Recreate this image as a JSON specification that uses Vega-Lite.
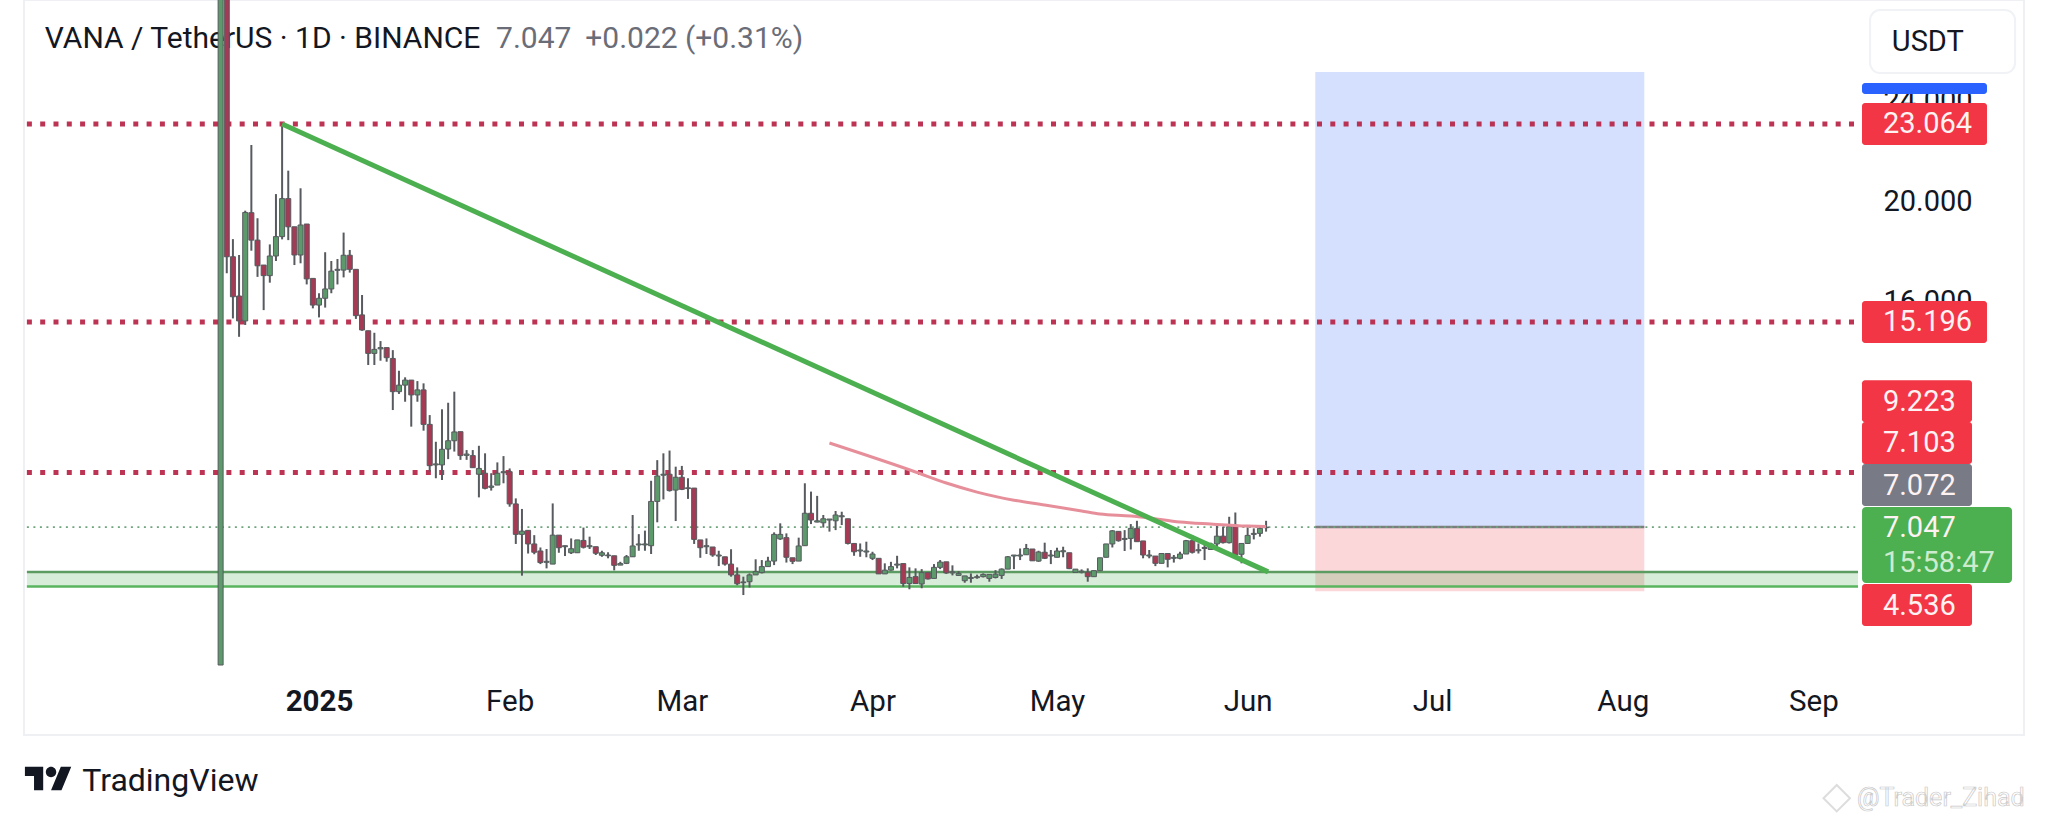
{
  "$schema": "https://vega.github.io/schema/vega-lite/v6.json",
  "width": 2000,
  "height": 735,
  "autosize": {"type": "none"},
  "padding": {"left": 24, "right": 24, "top": 0, "bottom": 88},
  "background": "#ffffff",
  "config": {"view": {"stroke": "#eef0f3", "strokeWidth": 2}},
  "datasets": {
    "candles": [
      {"t":"2024-12-16","o":1.57,"h":60,"l":1.57,"c":45},
      {"t":"2024-12-17","o":45,"h":60,"l":17.13,"c":17.79},
      {"t":"2024-12-18","o":17.79,"h":18.49,"l":15.34,"c":16.2},
      {"t":"2024-12-19","o":16.23,"h":17.86,"l":14.61,"c":15.24},
      {"t":"2024-12-20","o":15.24,"h":19.62,"l":15.08,"c":19.55},
      {"t":"2024-12-21","o":19.54,"h":22.23,"l":18.03,"c":18.45},
      {"t":"2024-12-22","o":18.45,"h":19.32,"l":16.99,"c":17.43},
      {"t":"2024-12-23","o":17.46,"h":17.46,"l":15.67,"c":17.04},
      {"t":"2024-12-24","o":17.04,"h":18.28,"l":16.76,"c":17.82},
      {"t":"2024-12-25","o":17.82,"h":20.28,"l":17.62,"c":18.59},
      {"t":"2024-12-26","o":18.59,"h":23.09,"l":18.48,"c":20.1},
      {"t":"2024-12-27","o":20.1,"h":21.21,"l":18.45,"c":18.98},
      {"t":"2024-12-28","o":18.98,"h":18.98,"l":17.46,"c":17.86},
      {"t":"2024-12-29","o":17.86,"h":20.51,"l":17.53,"c":19.05},
      {"t":"2024-12-30","o":19.09,"h":19.09,"l":16.69,"c":16.91},
      {"t":"2024-12-31","o":16.93,"h":16.93,"l":15.74,"c":15.87},
      {"t":"2025-01-01","o":15.87,"h":16.34,"l":15.38,"c":16.14},
      {"t":"2025-01-02","o":16.14,"h":17.97,"l":15.77,"c":16.51},
      {"t":"2025-01-03","o":16.51,"h":17.62,"l":16.34,"c":17.22},
      {"t":"2025-01-04","o":17.25,"h":17.7,"l":16.69,"c":17.29},
      {"t":"2025-01-05","o":17.26,"h":18.75,"l":16.97,"c":17.85},
      {"t":"2025-01-06","o":17.85,"h":18.06,"l":17.16,"c":17.29},
      {"t":"2025-01-07","o":17.29,"h":17.29,"l":15.32,"c":15.45},
      {"t":"2025-01-08","o":15.48,"h":16.27,"l":14.85,"c":14.88},
      {"t":"2025-01-09","o":14.85,"h":14.85,"l":13.49,"c":13.95},
      {"t":"2025-01-10","o":13.95,"h":14.77,"l":13.49,"c":14.11},
      {"t":"2025-01-11","o":14.13,"h":14.44,"l":13.66,"c":14.18},
      {"t":"2025-01-12","o":14.18,"h":14.18,"l":13.62,"c":13.78},
      {"t":"2025-01-13","o":13.75,"h":14.08,"l":11.7,"c":12.43},
      {"t":"2025-01-14","o":12.43,"h":13.26,"l":12.34,"c":12.69},
      {"t":"2025-01-15","o":12.69,"h":13.0,"l":12.03,"c":12.89},
      {"t":"2025-01-16","o":12.89,"h":12.89,"l":11.04,"c":12.3},
      {"t":"2025-01-17","o":12.3,"h":12.85,"l":12.03,"c":12.5},
      {"t":"2025-01-18","o":12.5,"h":12.76,"l":10.88,"c":11.13},
      {"t":"2025-01-19","o":11.13,"h":11.5,"l":9.25,"c":9.49},
      {"t":"2025-01-20","o":9.52,"h":10.44,"l":8.99,"c":9.56},
      {"t":"2025-01-21","o":9.52,"h":11.73,"l":8.92,"c":10.14},
      {"t":"2025-01-22","o":10.15,"h":11.99,"l":9.75,"c":10.48},
      {"t":"2025-01-23","o":10.48,"h":12.43,"l":10.05,"c":10.83},
      {"t":"2025-01-24","o":10.84,"h":10.84,"l":9.72,"c":9.89},
      {"t":"2025-01-25","o":9.9,"h":10.11,"l":9.72,"c":9.95},
      {"t":"2025-01-26","o":9.89,"h":10.11,"l":9.41,"c":9.41},
      {"t":"2025-01-27","o":9.15,"h":10.28,"l":8.23,"c":9.38},
      {"t":"2025-01-28","o":9.19,"h":9.98,"l":8.55,"c":8.59},
      {"t":"2025-01-29","o":8.63,"h":9.19,"l":8.5,"c":8.68},
      {"t":"2025-01-30","o":8.72,"h":9.62,"l":8.72,"c":9.19},
      {"t":"2025-01-31","o":9.21,"h":9.87,"l":8.79,"c":9.25},
      {"t":"2025-02-01","o":9.25,"h":9.38,"l":7.86,"c":7.97},
      {"t":"2025-02-02","o":7.97,"h":8.19,"l":6.38,"c":6.76},
      {"t":"2025-02-03","o":6.76,"h":7.77,"l":5.12,"c":6.89},
      {"t":"2025-02-04","o":6.92,"h":6.92,"l":6.0,"c":6.38},
      {"t":"2025-02-05","o":6.38,"h":6.73,"l":5.97,"c":6.05},
      {"t":"2025-02-06","o":6.1,"h":6.24,"l":5.58,"c":5.64},
      {"t":"2025-02-07","o":5.65,"h":6.18,"l":5.41,"c":5.69},
      {"t":"2025-02-08","o":5.58,"h":7.99,"l":5.58,"c":6.73},
      {"t":"2025-02-09","o":6.73,"h":6.73,"l":6.03,"c":6.23},
      {"t":"2025-02-10","o":6.27,"h":6.31,"l":5.9,"c":6.31},
      {"t":"2025-02-11","o":6.03,"h":6.6,"l":5.98,"c":6.19},
      {"t":"2025-02-12","o":6.03,"h":6.54,"l":6.03,"c":6.54},
      {"t":"2025-02-13","o":6.52,"h":7.03,"l":6.2,"c":6.25},
      {"t":"2025-02-14","o":6.27,"h":6.67,"l":6.18,"c":6.31},
      {"t":"2025-02-15","o":6.27,"h":6.27,"l":5.94,"c":6.01},
      {"t":"2025-02-16","o":5.93,"h":6.11,"l":5.87,"c":6.03},
      {"t":"2025-02-17","o":5.91,"h":6.05,"l":5.81,"c":5.94},
      {"t":"2025-02-18","o":5.91,"h":5.91,"l":5.33,"c":5.53},
      {"t":"2025-02-19","o":5.54,"h":5.67,"l":5.54,"c":5.6},
      {"t":"2025-02-20","o":5.61,"h":5.94,"l":5.58,"c":5.87},
      {"t":"2025-02-21","o":5.87,"h":7.53,"l":5.87,"c":6.3},
      {"t":"2025-02-22","o":6.34,"h":6.77,"l":6.11,"c":6.38},
      {"t":"2025-02-23","o":6.34,"h":6.91,"l":6.11,"c":6.38},
      {"t":"2025-02-24","o":6.31,"h":8.89,"l":5.98,"c":8.07},
      {"t":"2025-02-25","o":8.07,"h":9.71,"l":7.24,"c":9.08},
      {"t":"2025-02-26","o":9.11,"h":9.98,"l":8.15,"c":9.15},
      {"t":"2025-02-27","o":9.15,"h":10.09,"l":8.46,"c":8.5},
      {"t":"2025-02-28","o":8.52,"h":9.45,"l":7.29,"c":9.03},
      {"t":"2025-03-01","o":9.03,"h":9.48,"l":8.52,"c":8.55},
      {"t":"2025-03-02","o":8.58,"h":8.99,"l":8.17,"c":8.61},
      {"t":"2025-03-03","o":8.6,"h":8.6,"l":6.38,"c":6.56},
      {"t":"2025-03-04","o":6.54,"h":6.54,"l":5.83,"c":6.23},
      {"t":"2025-03-05","o":6.27,"h":6.6,"l":5.98,"c":6.31},
      {"t":"2025-03-06","o":6.26,"h":6.26,"l":5.87,"c":5.94},
      {"t":"2025-03-07","o":5.9,"h":6.11,"l":5.5,"c":5.94},
      {"t":"2025-03-08","o":5.87,"h":5.87,"l":5.52,"c":5.58},
      {"t":"2025-03-09","o":5.58,"h":6.17,"l":5.08,"c":5.15},
      {"t":"2025-03-10","o":5.15,"h":5.45,"l":4.74,"c":4.8},
      {"t":"2025-03-11","o":4.84,"h":5.08,"l":4.35,"c":4.87},
      {"t":"2025-03-12","o":4.88,"h":5.21,"l":4.65,"c":5.15},
      {"t":"2025-03-13","o":5.15,"h":5.77,"l":5.15,"c":5.28},
      {"t":"2025-03-14","o":5.24,"h":5.74,"l":5.21,"c":5.48},
      {"t":"2025-03-15","o":5.48,"h":5.87,"l":5.48,"c":5.7},
      {"t":"2025-03-16","o":5.7,"h":6.84,"l":5.54,"c":6.76},
      {"t":"2025-03-17","o":6.58,"h":7.2,"l":6.54,"c":6.76},
      {"t":"2025-03-18","o":6.63,"h":6.8,"l":5.64,"c":5.85},
      {"t":"2025-03-19","o":5.83,"h":5.83,"l":5.58,"c":5.69},
      {"t":"2025-03-20","o":5.7,"h":6.63,"l":5.7,"c":6.3},
      {"t":"2025-03-21","o":6.31,"h":8.79,"l":6.31,"c":7.6},
      {"t":"2025-03-22","o":7.6,"h":8.46,"l":7.17,"c":7.33},
      {"t":"2025-03-23","o":7.25,"h":8.29,"l":7.24,"c":7.3},
      {"t":"2025-03-24","o":7.22,"h":7.53,"l":7.03,"c":7.38},
      {"t":"2025-03-25","o":7.33,"h":7.37,"l":6.87,"c":7.37},
      {"t":"2025-03-26","o":7.3,"h":7.69,"l":6.93,"c":7.53},
      {"t":"2025-03-27","o":7.46,"h":7.66,"l":7.13,"c":7.5},
      {"t":"2025-03-28","o":7.38,"h":7.38,"l":6.36,"c":6.4},
      {"t":"2025-03-29","o":6.4,"h":6.4,"l":5.91,"c":6.07},
      {"t":"2025-03-30","o":6.1,"h":6.4,"l":5.87,"c":6.14},
      {"t":"2025-03-31","o":6.06,"h":6.47,"l":5.85,"c":6.1},
      {"t":"2025-04-01","o":5.81,"h":6.07,"l":5.74,"c":5.98},
      {"t":"2025-04-02","o":5.81,"h":5.81,"l":5.19,"c":5.19},
      {"t":"2025-04-03","o":5.19,"h":5.61,"l":5.19,"c":5.34},
      {"t":"2025-04-04","o":5.34,"h":5.67,"l":5.32,"c":5.48},
      {"t":"2025-04-05","o":5.54,"h":5.91,"l":5.41,"c":5.58},
      {"t":"2025-04-06","o":5.6,"h":5.6,"l":4.68,"c":4.81},
      {"t":"2025-04-07","o":4.81,"h":5.45,"l":4.58,"c":5.05},
      {"t":"2025-04-08","o":5.08,"h":5.41,"l":4.79,"c":4.81},
      {"t":"2025-04-09","o":4.79,"h":5.38,"l":4.62,"c":5.24},
      {"t":"2025-04-10","o":5.24,"h":5.24,"l":4.97,"c":4.99},
      {"t":"2025-04-11","o":5.01,"h":5.58,"l":5.01,"c":5.45},
      {"t":"2025-04-12","o":5.45,"h":5.74,"l":5.38,"c":5.66},
      {"t":"2025-04-13","o":5.67,"h":5.67,"l":5.19,"c":5.23},
      {"t":"2025-04-14","o":5.23,"h":5.53,"l":5.13,"c":5.27},
      {"t":"2025-04-15","o":5.13,"h":5.3,"l":5.11,"c":5.21},
      {"t":"2025-04-16","o":4.92,"h":5.11,"l":4.84,"c":5.11},
      {"t":"2025-04-17","o":5.01,"h":5.21,"l":4.84,"c":5.05},
      {"t":"2025-04-18","o":5.04,"h":5.16,"l":5.0,"c":5.08},
      {"t":"2025-04-19","o":5.08,"h":5.21,"l":5.05,"c":5.17},
      {"t":"2025-04-20","o":5.01,"h":5.17,"l":4.88,"c":5.17},
      {"t":"2025-04-21","o":5.05,"h":5.34,"l":5.01,"c":5.18},
      {"t":"2025-04-22","o":5.13,"h":5.41,"l":4.99,"c":5.38},
      {"t":"2025-04-23","o":5.38,"h":5.9,"l":5.38,"c":5.87},
      {"t":"2025-04-24","o":5.9,"h":5.94,"l":5.38,"c":5.94},
      {"t":"2025-04-25","o":5.9,"h":6.2,"l":5.74,"c":5.94},
      {"t":"2025-04-26","o":5.95,"h":6.38,"l":5.95,"c":6.2},
      {"t":"2025-04-27","o":6.18,"h":6.18,"l":5.71,"c":5.71},
      {"t":"2025-04-28","o":5.7,"h":6.11,"l":5.67,"c":6.06},
      {"t":"2025-04-29","o":6.05,"h":6.43,"l":5.78,"c":5.81},
      {"t":"2025-04-30","o":5.9,"h":6.14,"l":5.58,"c":5.94},
      {"t":"2025-05-01","o":5.85,"h":6.23,"l":5.85,"c":6.1},
      {"t":"2025-05-02","o":6.07,"h":6.27,"l":5.85,"c":6.11},
      {"t":"2025-05-03","o":6.03,"h":6.03,"l":5.38,"c":5.4},
      {"t":"2025-05-04","o":5.25,"h":5.38,"l":5.24,"c":5.38},
      {"t":"2025-05-05","o":5.26,"h":5.37,"l":5.21,"c":5.3},
      {"t":"2025-05-06","o":5.26,"h":5.41,"l":4.88,"c":5.08},
      {"t":"2025-05-07","o":5.08,"h":5.32,"l":5.08,"c":5.32},
      {"t":"2025-05-08","o":5.32,"h":5.83,"l":5.32,"c":5.83},
      {"t":"2025-05-09","o":5.85,"h":6.38,"l":5.85,"c":6.38},
      {"t":"2025-05-10","o":6.38,"h":6.93,"l":6.24,"c":6.9},
      {"t":"2025-05-11","o":6.88,"h":6.88,"l":6.47,"c":6.51},
      {"t":"2025-05-12","o":6.56,"h":6.93,"l":6.1,"c":6.6},
      {"t":"2025-05-13","o":6.6,"h":7.17,"l":6.16,"c":7.0},
      {"t":"2025-05-14","o":7.0,"h":7.3,"l":6.47,"c":6.47},
      {"t":"2025-05-15","o":6.5,"h":6.5,"l":5.81,"c":5.94},
      {"t":"2025-05-16","o":5.9,"h":6.14,"l":5.81,"c":5.94},
      {"t":"2025-05-17","o":5.9,"h":5.9,"l":5.5,"c":5.61},
      {"t":"2025-05-18","o":5.61,"h":6.0,"l":5.61,"c":6.0},
      {"t":"2025-05-19","o":6.0,"h":6.0,"l":5.45,"c":5.77},
      {"t":"2025-05-20","o":5.81,"h":5.94,"l":5.64,"c":5.85},
      {"t":"2025-05-21","o":5.81,"h":6.07,"l":5.77,"c":5.98},
      {"t":"2025-05-22","o":5.98,"h":6.54,"l":5.98,"c":6.51},
      {"t":"2025-05-23","o":6.51,"h":6.73,"l":6.0,"c":6.05},
      {"t":"2025-05-24","o":6.11,"h":6.4,"l":6.0,"c":6.15},
      {"t":"2025-05-25","o":6.2,"h":6.36,"l":5.74,"c":6.24},
      {"t":"2025-05-26","o":6.16,"h":6.43,"l":6.14,"c":6.38},
      {"t":"2025-05-27","o":6.38,"h":7.13,"l":6.14,"c":6.69},
      {"t":"2025-05-28","o":6.69,"h":7.07,"l":6.4,"c":6.43},
      {"t":"2025-05-29","o":6.43,"h":7.46,"l":6.4,"c":7.07},
      {"t":"2025-05-30","o":7.12,"h":7.63,"l":5.94,"c":5.94},
      {"t":"2025-05-31","o":5.97,"h":6.4,"l":5.61,"c":6.4},
      {"t":"2025-06-01","o":6.4,"h":7.04,"l":6.38,"c":6.72},
      {"t":"2025-06-02","o":6.76,"h":7.0,"l":6.56,"c":6.8},
      {"t":"2025-06-03","o":6.8,"h":7.07,"l":6.67,"c":7.0},
      {"t":"2025-06-04","o":7.025,"h":7.3,"l":6.87,"c":7.047}
    ],
    "ma": [
      {"t":"2025-03-25","p":10.39},{"t":"2025-04-08","p":9.24},
      {"t":"2025-04-13","p":8.8},{"t":"2025-04-18","p":8.44},{"t":"2025-04-24","p":8.12},
      {"t":"2025-04-29","p":7.93},{"t":"2025-05-05","p":7.69},{"t":"2025-05-08","p":7.57},
      {"t":"2025-05-13","p":7.49},{"t":"2025-05-16","p":7.41},{"t":"2025-05-21","p":7.25},
      {"t":"2025-05-26","p":7.17},{"t":"2025-06-01","p":7.09},{"t":"2025-06-04","p":7.07}
    ],
    "trend": [
      {"t":"2024-12-26","p":23.06},
      {"t":"2025-06-04T08:00:00Z","p":5.27}
    ],
    "levels": [
      {"t":"2024-11-14T12:00:00Z","t2":"2025-09-07T19:00:00Z","p":23.064},
      {"t":"2024-11-14T12:00:00Z","t2":"2025-09-07T19:00:00Z","p":15.196},
      {"t":"2024-11-14T12:00:00Z","t2":"2025-09-07T19:00:00Z","p":9.223}
    ],
    "last": [{"t":"2024-11-14T12:00:00Z","t2":"2025-09-07T19:00:00Z","p":7.047}],
    "zone": [{"t":"2024-11-14T12:00:00Z","t2":"2025-09-08T06:00:00Z","top":5.27,"bottom":4.69}],
    "position": [
      {"t":"2025-06-12","t2":"2025-08-04T12:00:00Z","top":25.13,"bottom":7.05,"side":"target"},
      {"t":"2025-06-12","t2":"2025-08-04T12:00:00Z","top":7.05,"bottom":4.5,"side":"stop"}
    ],
    "entry": [{"t":"2025-06-12","t2":"2025-08-04T12:00:00Z","p":7.05}],
    "heading": [
      {"t":"2024-11-17T10:00:00Z","p":26.44,"text":"VANA / TetherUS · 1D · BINANCE","part":"name"},
      {"t":"2025-01-29T19:00:00Z","p":26.44,"text":"7.047","part":"quote"},
      {"t":"2025-02-13T07:00:00Z","p":26.44,"text":"+0.022 (+0.31%)","part":"quote"}
    ],
    "tagTarget": [{"slot":24.47}],
    "tagsWide": [
      {"slot":23.064,"kind":"level"},
      {"slot":15.196,"kind":"level"}
    ],
    "tagsNarrow": [
      {"slot":12.05,"kind":"level"},
      {"slot":10.39,"kind":"level"},
      {"slot":8.72,"kind":"ma"},
      {"slot":3.95,"kind":"level"}
    ],
    "tagLast": [{"slot":6.34}],
    "tagText": [
      {"slot":23.064,"label":"23.064","kind":"plain"},
      {"slot":15.196,"label":"15.196","kind":"plain"},
      {"slot":12.02,"label":"9.223","kind":"plain"},
      {"slot":10.39,"label":"7.103","kind":"plain"},
      {"slot":8.68,"label":"7.072","kind":"plain"},
      {"slot":7.01,"label":"7.047","kind":"plain"},
      {"slot":5.62,"label":"15:58:47","kind":"timer"},
      {"slot":3.91,"label":"4.536","kind":"plain"}
    ],
    "unit": [{"slot":26.34,"label":"USDT"}],
    "logo": [{"t":"2024-11-18","p":-2.94}],
    "brand": [{"t":"2024-11-23T12:00:00Z","p":-3.05,"text":"TradingView"}],
    "stampIcon": [{"t":"2025-09-04T19:00:00Z","p":-3.72}],
    "stamp": [{"t":"2025-09-08T02:00:00Z","p":-3.72,"text":"@Trader_Zihad"}]
  },
  "layer": [
    {
      "data": {"name": "position"},
      "mark": {"type": "rect"},
      "encoding": {
        "x": {
          "field": "t",
          "type": "temporal",
          "title": null,
          "scale": {"type": "utc", "domain": [1731544992000, 1759643136000], "nice": false},
          "axis": {
            "values": [1735689600000, 1738368000000, 1740787200000, 1743465600000, 1746057600000, 1748736000000, 1751328000000, 1754006400000, 1756684800000],
            "labelExpr": "utcFormat(datum.value, '%m') == '01' ? '2025' : utcFormat(datum.value, '%b')",
            "orient": "bottom",
            "offset": -48,
            "domain": false,
            "ticks": false,
            "grid": false,
            "labelPadding": 0,
            "labelFont": "Roboto",
            "labelFontSize": 29.5,
            "labelColor": "#131722",
            "labelBaseline": "top",
            "labelFontWeight": {"condition": {"test": "utcFormat(datum.value, '%m') == '01'", "value": "bold"}, "value": "normal"},
            "labelOverlap": false,
            "labelFlush": false,
            "labelBound": false
          }
        },
        "x2": {"field": "t2"},
        "y": {
          "field": "top",
          "type": "quantitative",
          "title": null,
          "scale": {"domain": [-1.21, 27.99], "nice": false, "zero": false},
          "axis": {
            "orient": "right",
            "values": [16, 20, 24],
            "format": ".3f",
            "offset": -142,
            "domain": false,
            "ticks": false,
            "grid": false,
            "labelPadding": 1,
            "labelFont": "Roboto",
            "labelFontSize": 29,
            "labelColor": "#131722",
            "labelOverlap": false,
            "labelFlush": false,
            "labelBound": false
          }
        },
        "y2": {"field": "bottom"},
        "color": {
          "condition": {"test": "datum.side == 'target'", "value": "#d4e0fd"},
          "value": "#fbd7da"
        }
      }
    },
    {
      "data": {"name": "zone"},
      "mark": {"type": "rect", "color": "#4caf50", "opacity": 0.22},
      "encoding": {
        "x": {"field": "t", "type": "temporal", "title": null},
        "x2": {"field": "t2"},
        "y": {"field": "top", "type": "quantitative", "title": null},
        "y2": {"field": "bottom"}
      }
    },
    {
      "data": {"name": "zone"},
      "mark": {"type": "rule", "color": "#5c9c62", "strokeWidth": 2.5},
      "encoding": {
        "x": {"field": "t", "type": "temporal", "title": null},
        "x2": {"field": "t2"},
        "y": {"field": "top", "type": "quantitative", "title": null}
      }
    },
    {
      "data": {"name": "zone"},
      "mark": {"type": "rule", "color": "#58b45e", "strokeWidth": 2.5},
      "encoding": {
        "x": {"field": "t", "type": "temporal", "title": null},
        "x2": {"field": "t2"},
        "y": {"field": "bottom", "type": "quantitative", "title": null}
      }
    },
    {
      "data": {"name": "entry"},
      "mark": {"type": "rule", "color": "#7d7d80", "strokeWidth": 2.5},
      "encoding": {
        "x": {"field": "t", "type": "temporal", "title": null},
        "x2": {"field": "t2"},
        "y": {"field": "p", "type": "quantitative", "title": null}
      }
    },
    {
      "data": {"name": "heading"},
      "mark": {"type": "text", "align": "left", "baseline": "middle", "font": "Roboto", "fontSize": 30},
      "encoding": {
        "x": {"field": "t", "type": "temporal", "title": null},
        "y": {"field": "p", "type": "quantitative", "title": null},
        "text": {"field": "text"},
        "color": {
          "condition": {"test": "datum.part == 'quote'", "value": "#6a6d78"},
          "value": "#131722"
        }
      }
    },
    {
      "data": {"name": "levels"},
      "mark": {"type": "rule", "color": "#b8284a", "strokeWidth": 5, "strokeDash": [5, 8.3], "opacity": 0.95},
      "encoding": {
        "x": {"field": "t", "type": "temporal", "title": null},
        "x2": {"field": "t2"},
        "y": {"field": "p", "type": "quantitative", "title": null}
      }
    },
    {
      "data": {"name": "last"},
      "mark": {"type": "rule", "color": "#6fa57c", "strokeWidth": 1.6, "strokeDash": [2, 4.5]},
      "encoding": {
        "x": {"field": "t", "type": "temporal", "title": null},
        "x2": {"field": "t2"},
        "y": {"field": "p", "type": "quantitative", "title": null}
      }
    },
    {
      "data": {"name": "candles"},
      "mark": {"type": "rule", "color": "#575a5e", "strokeWidth": 2, "clip": true},
      "encoding": {
        "x": {"field": "t", "type": "temporal", "title": null},
        "y": {"field": "l", "type": "quantitative", "title": null},
        "y2": {"field": "h"}
      }
    },
    {
      "data": {"name": "candles"},
      "mark": {"type": "rect", "width": 5, "stroke": "#575a5e", "strokeWidth": 1, "clip": true},
      "encoding": {
        "x": {"field": "t", "type": "temporal", "title": null},
        "y": {"field": "o", "type": "quantitative", "title": null},
        "y2": {"field": "c"},
        "color": {
          "condition": {"test": "datum.c >= datum.o", "value": "#5c9a6c"},
          "value": "#a53a55"
        }
      }
    },
    {
      "data": {"name": "ma"},
      "mark": {"type": "line", "color": "#e68f9a", "strokeWidth": 3, "interpolate": "monotone"},
      "encoding": {
        "x": {"field": "t", "type": "temporal", "title": null},
        "y": {"field": "p", "type": "quantitative", "title": null}
      }
    },
    {
      "data": {"name": "trend"},
      "mark": {"type": "line", "color": "#4caf50", "strokeWidth": 5},
      "encoding": {
        "x": {"field": "t", "type": "temporal", "title": null},
        "y": {"field": "p", "type": "quantitative", "title": null}
      }
    },
    {
      "data": {"name": "tagTarget"},
      "mark": {"type": "rect", "width": 125, "height": 11, "cornerRadius": 3, "color": "#2962ff"},
      "encoding": {
        "x": {"datum": 1758245184000, "type": "temporal", "title": null},
        "y": {"field": "slot", "type": "quantitative", "title": null}
      }
    },
    {
      "data": {"name": "tagsWide"},
      "mark": {"type": "rect", "width": 125, "height": 42, "cornerRadius": 3, "color": "#f23645"},
      "encoding": {
        "x": {"datum": 1758245184000, "type": "temporal", "title": null},
        "y": {"field": "slot", "type": "quantitative", "title": null}
      }
    },
    {
      "data": {"name": "tagsNarrow"},
      "mark": {"type": "rect", "width": 110, "height": 42, "cornerRadius": 3},
      "encoding": {
        "x": {"datum": 1758139776000, "type": "temporal", "title": null},
        "y": {"field": "slot", "type": "quantitative", "title": null},
        "color": {
          "condition": {"test": "datum.kind == 'ma'", "value": "#787b86"},
          "value": "#f23645"
        }
      }
    },
    {
      "data": {"name": "tagLast"},
      "mark": {"type": "rect", "width": 150, "height": 76, "cornerRadius": 4, "color": "#4caf50"},
      "encoding": {
        "x": {"datum": 1758421440000, "type": "temporal", "title": null},
        "y": {"field": "slot", "type": "quantitative", "title": null}
      }
    },
    {
      "data": {"name": "tagText"},
      "mark": {"type": "text", "align": "left", "baseline": "middle", "font": "Roboto", "fontSize": 29},
      "encoding": {
        "x": {"datum": 1757661120000, "type": "temporal", "title": null},
        "y": {"field": "slot", "type": "quantitative", "title": null},
        "text": {"field": "label"},
        "color": {
          "condition": {"test": "datum.kind == 'timer'", "value": "#cdeccf"},
          "value": "#fff2f2"
        }
      }
    },
    {
      "data": {"name": "unit"},
      "mark": {"type": "rect", "width": 145, "height": 63, "cornerRadius": 10, "color": "#ffffff", "stroke": "#f0f2f6", "strokeWidth": 2},
      "encoding": {
        "x": {"datum": 1758499200000, "type": "temporal", "title": null},
        "y": {"field": "slot", "type": "quantitative", "title": null}
      }
    },
    {
      "data": {"name": "unit"},
      "mark": {"type": "text", "align": "center", "baseline": "middle", "font": "Roboto", "fontSize": 29, "color": "#131722"},
      "encoding": {
        "x": {"datum": 1758291840000, "type": "temporal", "title": null},
        "y": {"field": "slot", "type": "quantitative", "title": null},
        "text": {"field": "label"}
      }
    },
    {
      "data": {"name": "logo"},
      "mark": {
        "type": "point",
        "filled": true,
        "opacity": 1,
        "color": "#131722",
        "size": 8836,
        "shape": "M-0.111 0.25H-0.306V-0.056H-0.5V-0.25H-0.111ZM0.278 0.25H0.056L0.264 -0.25H0.486ZM-0.055 -0.139a0.111 0.111 0 1 0 0.222 0a0.111 0.111 0 1 0 -0.222 0Z"
      },
      "encoding": {
        "x": {"field": "t", "type": "temporal", "title": null},
        "y": {"field": "p", "type": "quantitative", "title": null}
      }
    },
    {
      "data": {"name": "brand"},
      "mark": {"type": "text", "align": "left", "baseline": "middle", "font": "Roboto", "fontSize": 32, "color": "#131722"},
      "encoding": {
        "x": {"field": "t", "type": "temporal", "title": null},
        "y": {"field": "p", "type": "quantitative", "title": null},
        "text": {"field": "text"}
      }
    },
    {
      "data": {"name": "stampIcon"},
      "mark": {"type": "point", "shape": "diamond", "size": 700, "color": "#dddddd", "strokeWidth": 2, "opacity": 1, "filled": false},
      "encoding": {
        "x": {"field": "t", "type": "temporal", "title": null},
        "y": {"field": "p", "type": "quantitative", "title": null}
      }
    },
    {
      "data": {"name": "stamp"},
      "mark": {"type": "text", "align": "left", "baseline": "middle", "font": "Roboto", "fontSize": 25, "color": "#ffffff", "stroke": "#c9c9c9", "strokeWidth": 0.7},
      "encoding": {
        "x": {"field": "t", "type": "temporal", "title": null},
        "y": {"field": "p", "type": "quantitative", "title": null},
        "text": {"field": "text"}
      }
    }
  ]
}
